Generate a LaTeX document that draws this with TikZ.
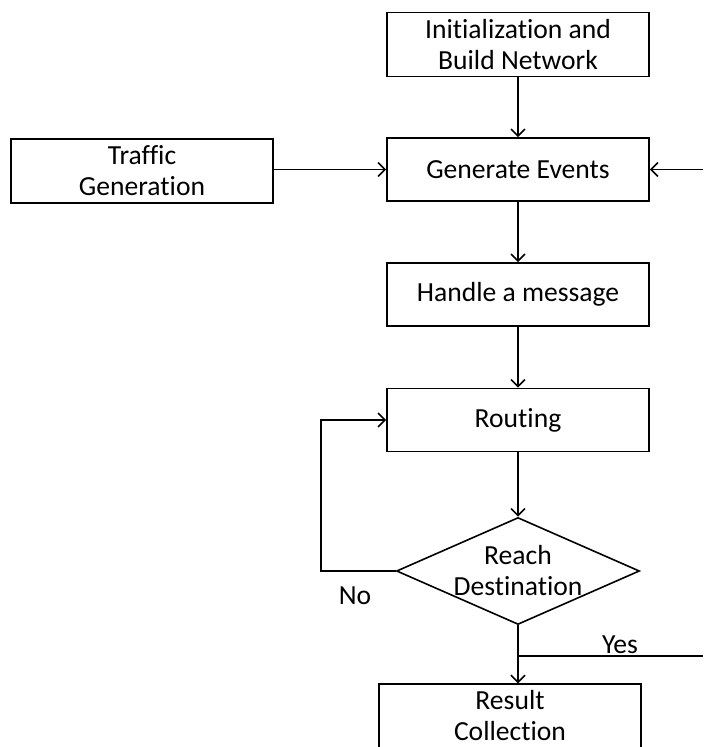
\documentclass[tikz,border=0pt]{standalone}
\usepackage{fontspec}
\setmainfont[Ligatures=NoCommon]{Carlito}
\usepackage{tikz}
\usetikzlibrary{shapes,arrows,positioning}
\usetikzlibrary{shapes.geometric, arrows.meta}

\begin{document}
\begin{tikzpicture}
  [
    x=0.5pt, y=-0.5pt,
    >={Straight Barb[length=3.5pt, width=7pt]},
    Box/.style={rectangle, draw=black, fill=white, thick, minimum width=131pt, minimum height=31.5pt, align=center, font=\fontsize{13.8}{15.5}\selectfont},
    Decision/.style={diamond, draw=black, fill=white, thick, minimum width=121.5pt, minimum height=53.5pt, inner sep=0pt},
    Tag/.style={inner sep=0pt, font=\fontsize{13.8}{15.5}\selectfont}
  ]
  \useasboundingbox (0,0) rectangle (703,747);
  % Nodes
  \node[Box] (init) at (518, 44.5) {Initialization and\\Build Network};
  \node[Box] (events) at (518, 169.5) {Generate Events};
  \node[Box] (traffic) at (142, 171) {Traffic\\Generation};
  \node[Box] (handle) at (518, 294.5) {Handle a message};
  \node[Box] (routing) at (518, 420) {Routing};
  \node[Decision, label={[Tag, align=center]center:Reach\\Destination}] (dest) at (518, 571) {};
  \node[Box] (result) at (510, 716) {Result\\Collection};
  \coordinate (back) at (703, 169.5);
  \coordinate (yesend) at (703, 656);
  \coordinate (split) at (518, 656);
  % Labels
  \node[Tag] (no) at (355, 596) {No};
  \node[Tag] (yes) at (620, 645) {Yes};
  % Lines
  \path [->, draw, thick] (init) -- (events);
  \path [->, draw, thick] (traffic.east |- events) -- (events.west);
  \path [->, draw, thick] (back) -- (events.east);
  \path [->, draw, thick] (events) -- (handle);
  \path [->, draw, thick] (handle) -- (routing);
  \path [->, draw, thick] (routing) -- (dest.north);
  \path [->, draw, thick] (dest.west) -- ++(-75, 0) |- (routing.west);
  \path [->, draw, thick] (dest.south) -- (dest.south |- result.north);
  \path [draw, thick] (split) -- (yesend);
\end{tikzpicture}
\end{document}
